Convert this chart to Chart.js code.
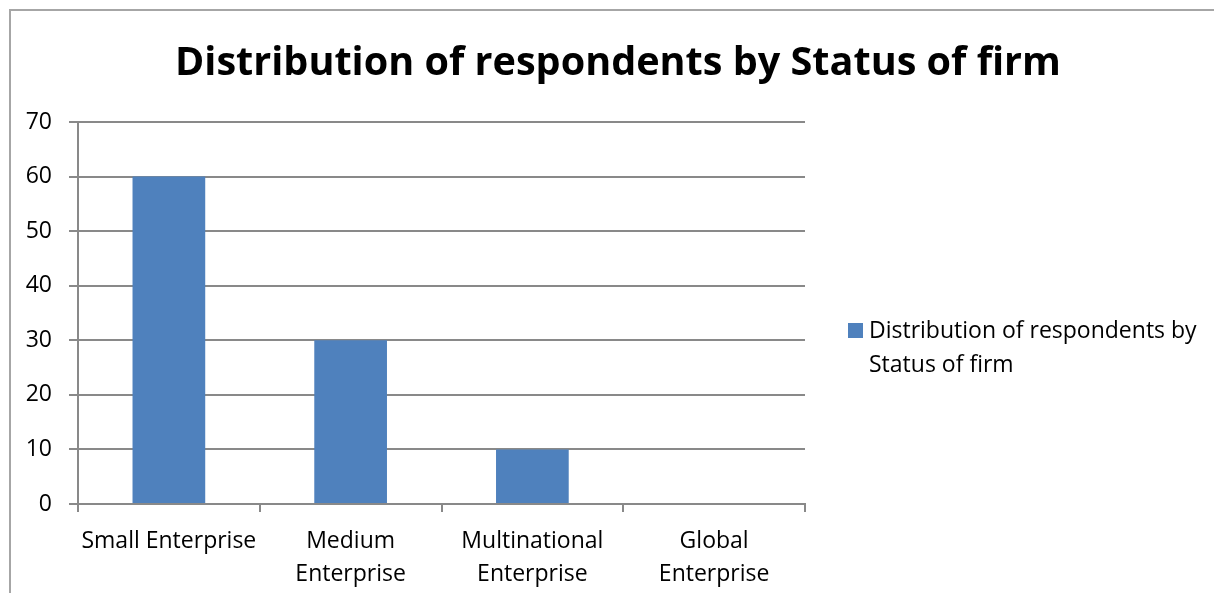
<!DOCTYPE html>
<html>
<head>
<meta charset="utf-8">
<title>Distribution of respondents by Status of firm</title>
<script src="https://cdn.jsdelivr.net/npm/chart.js@4/dist/chart.umd.min.js"></script>
<style>
    html, body { margin: 0; padding: 0; background: #fff; overflow: hidden; }
    #frame {
        position: absolute; left: 9px; top: 9px;
        width: 1400px; height: 800px;
        border: 2px solid #a6a6a6;
    }
    #wrap { position: absolute; left: 0; top: 0; width: 1214px; height: 593px; }
</style>
</head>
<body>
<div id="frame"></div>
<div id="wrap"><canvas id="mainChart"></canvas></div>
<script>
// данные графика
const categories = [
    'Small Enterprise',
    ['Medium', 'Enterprise'],
    ['Multinational', 'Enterprise'],
    ['Global', 'Enterprise']
];
const respondents = [60, 30, 10, 0];
const seriesName = 'Distribution of respondents by Status of firm';
const legendLines = ['Distribution of respondents by', 'Status of firm'];
const yTicks = [0, 10, 20, 30, 40, 50, 60, 70];

const FONT = '"Open Sans", sans-serif';
const barColor = '#4f81bd';
const gridColor = '#898989';

// заголовок по центру всего холста
const centerTitle = {
    id: 'centerTitle',
    afterDraw(chart) {
        const ctx = chart.ctx;
        ctx.save();
        ctx.fillStyle = '#000';
        ctx.font = 'bold 39.6px ' + FONT;
        ctx.textAlign = 'center';
        ctx.textBaseline = 'alphabetic';
        ctx.fillText(seriesName, 618, 75);
        ctx.restore();
    }
};

// легенда справа в две строки
const sideLegend = {
    id: 'sideLegend',
    afterDraw(chart) {
        const ctx = chart.ctx;
        const x = chart.chartArea.right + 43;
        ctx.save();
        ctx.fillStyle = barColor;
        ctx.fillRect(x, 323, 15, 15);
        ctx.fillStyle = '#000';
        ctx.font = '23px ' + FONT;
        ctx.textBaseline = 'alphabetic';
        legendLines.forEach((line, i) => {
            ctx.fillText(line, x + 21, 338 + i * 34);
        });
        ctx.restore();
    }
};

document.addEventListener('DOMContentLoaded', function () {
    const ctx = document.getElementById('mainChart').getContext('2d');

    new Chart(ctx, {
        type: 'bar',
        data: {
            labels: categories,
            datasets: [{
                label: seriesName,
                data: respondents,
                backgroundColor: barColor,
                borderWidth: 0,
                barPercentage: 0.4,
                categoryPercentage: 1.0
            }]
        },
        options: {
            responsive: true,
            maintainAspectRatio: false,
            animation: false,
            layout: {
                padding: { left: 10, right: 409, top: 122, bottom: 0 }
            },
            plugins: {
                legend: { display: false },
                tooltip: { enabled: false },
                title: { display: false }
            },
            scales: {
                x: {
                    offset: true,
                    grid: {
                        offset: true,
                        drawOnChartArea: false,
                        drawTicks: true,
                        tickLength: 8,
                        color: gridColor,
                        lineWidth: 2
                    },
                    border: { color: gridColor, width: 2 },
                    ticks: {
                        color: '#000',
                        font: { family: FONT, size: 23, lineHeight: 1.42 },
                        padding: 13,
                        maxRotation: 0,
                        autoSkip: false
                    },
                    afterFit(scale) { scale.height = 89; }
                },
                y: {
                    min: 0,
                    max: 70,
                    afterBuildTicks(scale) {
                        scale.ticks = yTicks.map(v => ({ value: v }));
                    },
                    grid: {
                        color: gridColor,
                        lineWidth: 2,
                        tickLength: 9,
                        drawTicks: true
                    },
                    border: { color: gridColor, width: 2 },
                    ticks: {
                        color: '#000',
                        font: { family: FONT, size: 23 },
                        padding: 17
                    },
                    afterFit(scale) { scale.width = 68; }
                }
            }
        },
        plugins: [centerTitle, sideLegend]
    });
});
</script>
</body>
</html>
